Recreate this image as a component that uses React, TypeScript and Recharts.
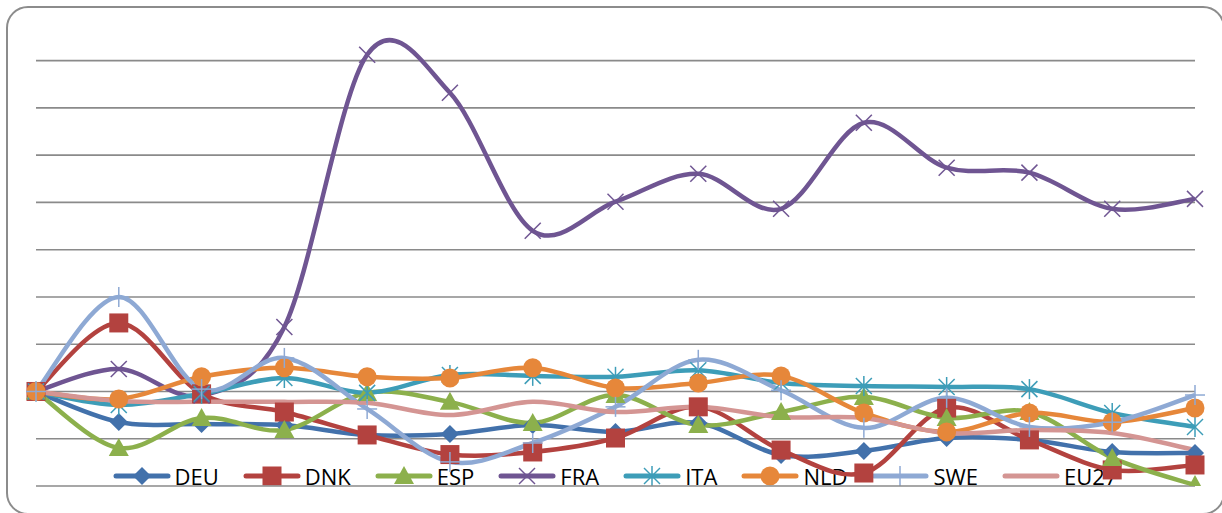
import React from "react";
import { LineChart, Line, XAxis, YAxis, CartesianGrid } from "recharts";

// 15 periods, no labels shown on the original chart
const periods = ["1", "2", "3", "4", "5", "6", "7", "8", "9", "10", "11", "12", "13", "14", "15"];

const deu = [100, 87.1, 86.2, 85.8, 81.6, 82.0, 85.8, 82.9, 86.7, 73.1, 74.8, 80.3, 79.5, 74.4, 74.0];
const dnk = [100, 129.0, 99.0, 91.3, 81.6, 73.3, 74.4, 80.3, 93.5, 75.2, 65.5, 93.0, 79.5, 66.8, 68.9];
const esp = [100, 76.1, 88.8, 83.7, 99.4, 95.6, 86.7, 98.5, 85.8, 91.3, 97.7, 88.8, 91.3, 71.9, 60.4];
const fra = [100, 109.5, 98.3, 127.3, 242.5, 226.4, 168.0, 180.3, 192.1, 177.3, 213.7, 194.7, 192.6, 177.3, 181.5];
const ita = [100, 94.3, 99.0, 105.7, 99.4, 107.0, 106.6, 106.2, 109.0, 103.6, 102.3, 101.9, 101.0, 90.9, 85.0];
const nld = [100, 96.8, 106.2, 110.0, 106.2, 105.7, 110.0, 101.5, 103.6, 106.6, 90.9, 82.9, 90.9, 87.1, 93.0];
const swe = [100, 140.0, 101.0, 114.2, 92.6, 70.2, 78.2, 93.5, 113.4, 100.5, 84.6, 97.3, 85.0, 87.0, 98.5];
const eu27 = [100, 96.0, 95.6, 95.6, 95.2, 90.0, 95.6, 91.3, 93.5, 89.2, 88.8, 82.4, 83.7, 82.4, 75.2];

const yTicks = [60, 80, 100, 120, 140, 160, 180, 200, 220, 240];

type Shape = "diamond" | "square" | "triangle" | "x" | "star" | "circle" | "plus" | "none";

const series: { key: string; name: string; values: number[]; color: string; shape: Shape }[] = [
  { key: "deu", name: "DEU", values: deu, color: "#4271AB", shape: "diamond" },
  { key: "dnk", name: "DNK", values: dnk, color: "#B3423F", shape: "square" },
  { key: "esp", name: "ESP", values: esp, color: "#8CB04C", shape: "triangle" },
  { key: "fra", name: "FRA", values: fra, color: "#6F5592", shape: "x" },
  { key: "ita", name: "ITA", values: ita, color: "#3D9DB8", shape: "star" },
  { key: "nld", name: "NLD", values: nld, color: "#E6873A", shape: "circle" },
  { key: "swe", name: "SWE", values: swe, color: "#8EA9D4", shape: "plus" },
  { key: "eu27", name: "EU27", values: eu27, color: "#D49593", shape: "none" },
];

const data = periods.map((p, i) => {
  const row: Record<string, number | string> = { period: p };
  series.forEach((s) => (row[s.key] = s.values[i]));
  return row;
});

// Excel-like smoothing (Catmull-Rom through the points)
const excelCurve = (context: any) => {
  let pts: number[][] = [];
  return {
    areaStart() {},
    areaEnd() {},
    lineStart() {
      pts = [];
    },
    point(x: number, y: number) {
      pts.push([+x, +y]);
    },
    lineEnd() {
      if (!pts.length) return;
      context.moveTo(pts[0][0], pts[0][1]);
      for (let i = 0; i < pts.length - 1; i++) {
        const p0 = pts[i - 1] || pts[i];
        const p1 = pts[i];
        const p2 = pts[i + 1];
        const p3 = pts[i + 2] || p2;
        context.bezierCurveTo(
          p1[0] + (p2[0] - p0[0]) / 6,
          p1[1] + (p2[1] - p0[1]) / 6,
          p2[0] - (p3[0] - p1[0]) / 6,
          p2[1] - (p3[1] - p1[1]) / 6,
          p2[0],
          p2[1]
        );
      }
    },
  };
};

function Marker({ shape, color, cx, cy }: { shape: Shape; color: string; cx: number; cy: number }) {
  switch (shape) {
    case "diamond":
      return <polygon points={`${cx},${cy - 9} ${cx + 9},${cy} ${cx},${cy + 9} ${cx - 9},${cy}`} fill={color} />;
    case "square":
      return <rect x={cx - 9.5} y={cy - 9.5} width={19} height={19} fill={color} />;
    case "triangle":
      return <polygon points={`${cx},${cy - 10} ${cx + 10},${cy + 8} ${cx - 10},${cy + 8}`} fill={color} />;
    case "x":
      return (
        <g stroke={color} strokeWidth={1.5}>
          <line x1={cx - 8} y1={cy - 8} x2={cx + 8} y2={cy + 8} />
          <line x1={cx - 8} y1={cy + 8} x2={cx + 8} y2={cy - 8} />
        </g>
      );
    case "star":
      return (
        <g stroke={color} strokeWidth={1.5}>
          <line x1={cx - 8} y1={cy - 8} x2={cx + 8} y2={cy + 8} />
          <line x1={cx - 8} y1={cy + 8} x2={cx + 8} y2={cy - 8} />
          <line x1={cx} y1={cy - 10} x2={cx} y2={cy + 10} />
        </g>
      );
    case "circle":
      return <circle cx={cx} cy={cy} r={9.5} fill={color} />;
    case "plus":
      return (
        <g stroke={color} strokeWidth={1.5}>
          <line x1={cx} y1={cy - 10} x2={cx} y2={cy + 10} />
          <line x1={cx - 10} y1={cy} x2={cx + 10} y2={cy} />
        </g>
      );
    default:
      return null;
  }
}

function ChartLegend() {
  return (
    <div
      style={{
        position: "absolute",
        left: 36,
        width: 1184,
        top: 464,
        height: 24,
        display: "flex",
        justifyContent: "center",
        alignItems: "center",
        fontFamily: "'Open Sans', sans-serif",
        fontSize: 22,
        color: "#000",
      }}
    >
      {series.map((s) => (
        <div key={s.key} style={{ display: "flex", alignItems: "center", marginRight: 25 }}>
          <svg width={56} height={24} style={{ overflow: "visible" }}>
            <line x1={2} y1={12} x2={54} y2={12} stroke={s.color} strokeWidth={5} strokeLinecap="round" />
            <Marker shape={s.shape} color={s.color} cx={28} cy={12} />
          </svg>
          <span style={{ marginLeft: 5, lineHeight: "24px" }}>{s.name}</span>
        </div>
      ))}
    </div>
  );
}

export default function App() {
  return (
    <div
      style={{
        position: "absolute",
        left: 0,
        top: 0,
        width: 1222,
        height: 513,
        background: "#fff",
        overflow: "hidden",
      }}
    >
      <div
        style={{
          position: "absolute",
          left: 6,
          top: 6,
          width: 1219,
          height: 509,
          boxSizing: "border-box",
          border: "2px solid #8c8c8c",
          borderRadius: 22,
        }}
      />
      <ChartLegend />
      <div style={{ position: "absolute", left: 0, top: 0 }}>
        <LineChart width={1222} height={513} data={data} margin={{ top: 37, right: 27, bottom: 27, left: 36 }}>
          <CartesianGrid vertical={false} horizontalValues={yTicks} stroke="#8a8a8a" strokeWidth={1.6} />
          <XAxis dataKey="period" height={0} tick={false} axisLine={false} tickLine={false} padding={{ left: 0, right: 0 }} />
          <YAxis
            width={0}
            domain={[60, 250]}
            ticks={yTicks}
            interval={0}
            tick={() => <g />}
            axisLine={false}
            tickLine={false}
            allowDataOverflow
          />
          {series.map((s) => (
            <Line
              key={s.key}
              dataKey={s.key}
              name={s.name}
              type={excelCurve as any}
              stroke={s.color}
              strokeWidth={4.5}
              isAnimationActive={false}
              dot={(p: any) => <Marker key={`${s.key}-${p.index}`} shape={s.shape} color={s.color} cx={p.cx} cy={p.cy} />}
              activeDot={false}
            />
          ))}
        </LineChart>
      </div>
    </div>
  );
}
